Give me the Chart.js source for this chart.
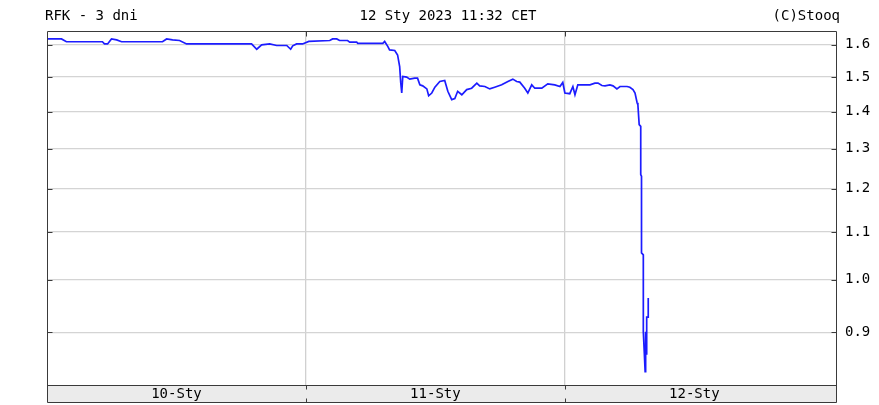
<!DOCTYPE html>
<html>
<head>
<meta charset="utf-8">
<script src="https://cdn.jsdelivr.net/npm/chart.js@4/dist/chart.umd.min.js"></script>
<style>
html,body{margin:0;padding:0;background:#fff;}
#wrap{width:879px;height:405px;position:relative;}
</style>
</head>
<body>
<div id="wrap"><canvas id="c" width="879" height="405"></canvas></div>
<script>
const titleLeft = 'RFK - 3 dni';
const titleCenter = '12 Sty 2023 11:32 CET';
const titleRight = '(C)Stooq';
const dayLabels = ['10-Sty', '11-Sty', '12-Sty'];
const yTicks = [0.9, 1.0, 1.1, 1.2, 1.3, 1.4, 1.5, 1.6];

// time in days since start of 10-Sty session
const times = [
  0.002, 0.056, 0.075, 0.214, 0.222, 0.234, 0.249, 0.269, 0.288, 0.446,
  0.462, 0.485, 0.512, 0.539, 0.756, 0.790, 0.810, 0.829, 0.860, 0.887,
  0.926, 0.941, 0.949, 0.964, 0.987, 1.011,
  1.092, 1.103, 1.119, 1.130, 1.161, 1.169, 1.196, 1.200, 1.297, 1.304,
  1.316, 1.323, 1.343, 1.354, 1.362, 1.366, 1.370, 1.374, 1.389, 1.401,
  1.420, 1.431, 1.440, 1.451, 1.467, 1.474, 1.486, 1.498, 1.517, 1.536,
  1.548, 1.563, 1.575, 1.586, 1.602, 1.621, 1.640, 1.660, 1.671, 1.691,
  1.710, 1.729, 1.756, 1.780, 1.799, 1.814, 1.826, 1.845, 1.857, 1.872,
  1.884, 1.911, 1.934, 1.961, 1.981, 1.992,
  2.000, 2.019, 2.031, 2.039, 2.050, 2.066, 2.085, 2.097, 2.116, 2.128,
  2.143, 2.155, 2.174, 2.186, 2.201, 2.213, 2.240, 2.251, 2.263, 2.271,
  2.279, 2.282, 2.287, 2.293, 2.293, 2.296, 2.296, 2.303, 2.303, 2.307,
  2.310, 2.312, 2.314, 2.316, 2.322, 2.322
];
const prices = [
  1.619, 1.619, 1.610, 1.610, 1.603, 1.603, 1.619, 1.616, 1.610, 1.610,
  1.619, 1.616, 1.614, 1.603, 1.603, 1.603, 1.586, 1.600, 1.603, 1.598,
  1.598, 1.586, 1.597, 1.603, 1.603, 1.611,
  1.614, 1.619, 1.619, 1.614, 1.614, 1.609, 1.609, 1.605, 1.605, 1.611,
  1.595, 1.584, 1.582, 1.568, 1.532, 1.485, 1.453, 1.502, 1.500, 1.494,
  1.497, 1.497, 1.477, 1.474, 1.465, 1.445, 1.453, 1.470, 1.487, 1.490,
  1.458, 1.434, 1.437, 1.458, 1.448, 1.463, 1.467, 1.482, 1.474, 1.472,
  1.465, 1.470, 1.477, 1.487, 1.494, 1.487, 1.485, 1.467, 1.453, 1.477,
  1.467, 1.467, 1.480, 1.477, 1.472, 1.484,
  1.453, 1.451, 1.472, 1.448, 1.477, 1.477, 1.477, 1.477, 1.482, 1.482,
  1.475, 1.474, 1.477, 1.474, 1.465, 1.472, 1.472, 1.470, 1.463, 1.453,
  1.425, 1.419, 1.364, 1.359, 1.234, 1.230, 1.055, 1.051, 0.901, 0.862,
  0.832, 0.901, 0.862, 0.928, 0.928, 0.964
];

const FONT = '"DejaVu Sans Mono", monospace';
const points = times.map((t, i) => ({ x: t, y: prices[i] }));

const framePlugin = {
  id: 'frame',
  afterDraw(chart) {
    const ctx = chart.ctx;
    const a = chart.chartArea;
    const xs = chart.scales.x;
    const ys = chart.scales.y;
    const L = Math.round(a.left) + 0.5, R = Math.round(a.right) - 0.5;
    const T = Math.round(a.top) + 0.5, B = Math.round(a.bottom) + 0.5;
    const BB = Math.round(xs.bottom) - 0.5;
    ctx.save();
    ctx.strokeStyle = '#3a3a3a';
    ctx.lineWidth = 1;
    ctx.beginPath();
    ctx.moveTo(L, T); ctx.lineTo(R, T);
    ctx.moveTo(L, B); ctx.lineTo(R, B);
    ctx.moveTo(L, BB); ctx.lineTo(R, BB);
    ctx.moveTo(L, T); ctx.lineTo(L, BB);
    ctx.moveTo(R, T); ctx.lineTo(R, BB);
    yTicks.forEach(v => {
      const y = Math.round(ys.getPixelForValue(v)) + 0.5;
      ctx.moveTo(R - 5, y); ctx.lineTo(R, y);
      ctx.moveTo(L, y); ctx.lineTo(L + 5, y);
    });
    [1, 2].forEach(d => {
      const x = Math.round(xs.getPixelForValue(d)) + 0.5;
      ctx.moveTo(x, T); ctx.lineTo(x, T + 5);
      ctx.moveTo(x, B); ctx.lineTo(x, B + 4);
      ctx.moveTo(x, BB - 4); ctx.lineTo(x, BB);
    });
    ctx.stroke();
    // header texts
    ctx.fillStyle = '#000';
    ctx.font = '14px ' + FONT;
    ctx.textBaseline = 'middle';
    ctx.textAlign = 'left';
    ctx.fillText(titleLeft, 45, 16);
    ctx.textAlign = 'center';
    ctx.fillText(titleCenter, 448, 16);
    ctx.textAlign = 'right';
    ctx.fillText(titleRight, 840, 16);
    ctx.restore();
  }
};

new Chart(document.getElementById('c'), {
  type: 'line',
  data: {
    datasets: [{
      data: points,
      borderColor: '#1c1cff',
      borderWidth: 1.7,
      pointRadius: 0,
      tension: 0,
      fill: false
    }]
  },
  options: {
    responsive: false,
    animation: false,
    devicePixelRatio: 1,
    layout: { padding: { top: 31, left: 47, right: 0, bottom: 2 } },
    plugins: { legend: { display: false }, tooltip: { enabled: false }, title: { display: false } },
    scales: {
      x: {
        type: 'linear',
        position: 'bottom',
        min: 0,
        max: 3.051,
        backgroundColor: '#ebebeb',
        afterFit(s) { s.height = 18; },
        afterBuildTicks(s) { s.ticks = [0.5, 1, 1.5, 2, 2.5].map(v => ({ value: v })); },
        border: { display: false },
        grid: {
          drawTicks: false,
          lineWidth: 1.3,
          color: c => (c.tick && c.tick.value % 1 === 0) ? '#d0d0d0' : 'rgba(0,0,0,0)'
        },
        ticks: {
          autoSkip: false,
          maxRotation: 0,
          padding: 1,
          color: '#000',
          font: { family: FONT, size: 14 },
          callback: v => (v % 1 === 0.5) ? dayLabels[Math.floor(v)] : ''
        }
      },
      y: {
        type: 'logarithmic',
        position: 'right',
        min: 0.8125,
        max: 1.645,
        afterFit(s) { s.width = 42; },
        afterBuildTicks(s) { s.ticks = yTicks.map(v => ({ value: v })); },
        border: { display: false },
        grid: { drawTicks: false, color: '#d4d4d4', lineWidth: 1.3 },
        ticks: {
          padding: 8,
          color: '#000',
          font: { family: FONT, size: 14 },
          callback: v => Number(v).toFixed(1)
        }
      }
    }
  },
  plugins: [framePlugin]
});
</script>
</body>
</html>
